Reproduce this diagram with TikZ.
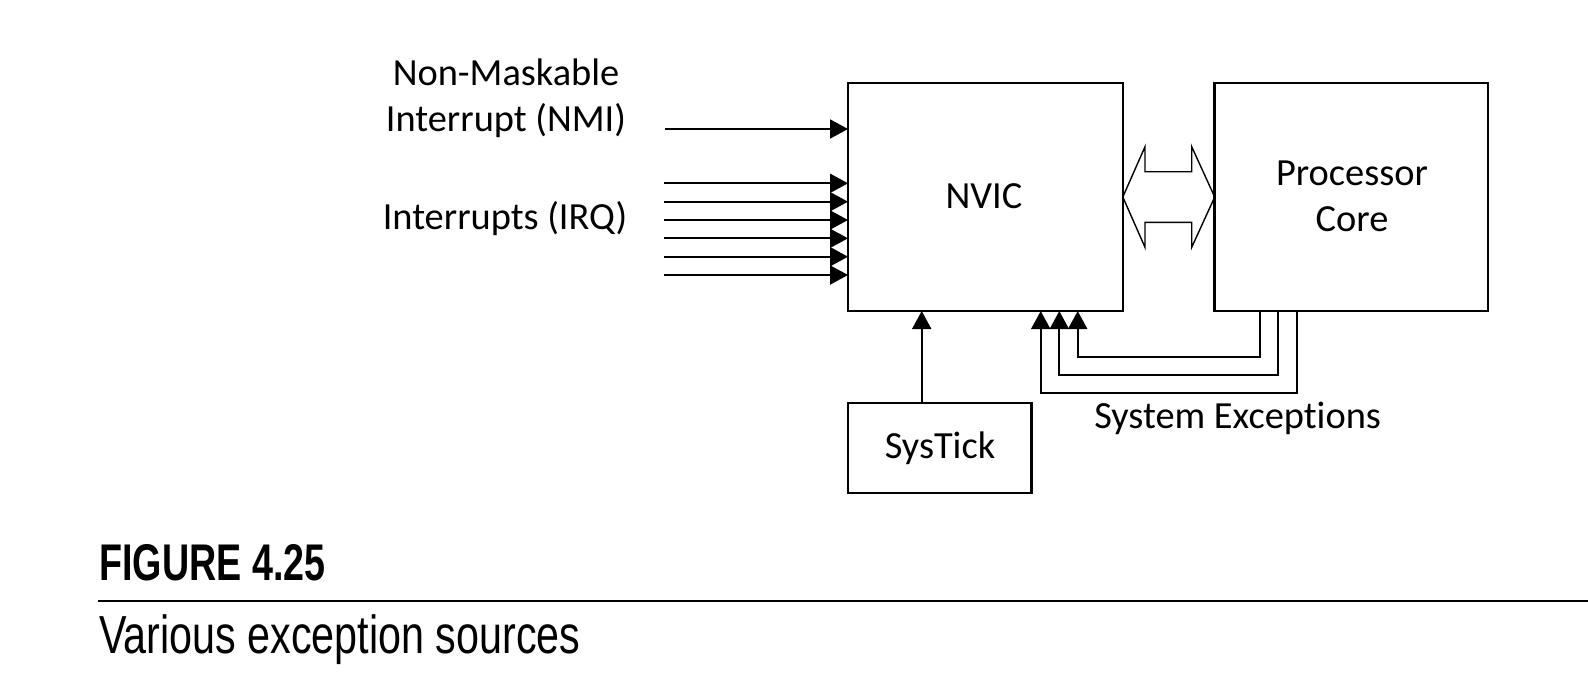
\documentclass[tikz,border=0pt]{standalone}
\usepackage{fontspec}
\setmainfont[Ligatures=NoCommon]{Carlito}
\newfontfamily\capfont[FakeStretch=0.77]{Liberation Sans}
\newfontfamily\capbold[FakeStretch=0.73]{Liberation Sans}
\usetikzlibrary{arrows.meta}
\begin{document}
\begin{tikzpicture}[x=0.5pt,y=-0.5pt,
  lbl/.style={font=\fontsize{19.2}{23.2}\selectfont, inner sep=0pt, align=center},
  blk/.style={draw, line width=1.25pt, inner sep=0pt, outer sep=0pt},
  arr/.style={line width=1pt, -{Triangle[length=9pt,width=9.5pt]}},
  wire/.style={line width=1pt}]
\useasboundingbox (0,0) rectangle (1588,681);
% blocks
\node[blk, minimum width=137.4pt, minimum height=114pt] (nvic) at (985.4,197) {};
\node[lbl] (nvict) at (984,196.5) {NVIC};
\node[blk, minimum width=136.7pt, minimum height=114pt] (proc) at (1351.4,197) {};
\node[lbl] (proct) at (1352,196.5) {Processor\\Core};
\node[blk, minimum width=91.8pt, minimum height=45pt] (systick) at (939.9,448) {};
\node[lbl] (systickt) at (940,448) {SysTick};
% labels
\node[lbl] (nmil) at (506,98) {Non-Maskable\\Interrupt (NMI)};
\node[lbl] (irql) at (505,218.8) {Interrupts (IRQ)};
\node[lbl] (sysexl) at (1237.6,418) {System Except\kern0pt ions};
% NMI arrow
\coordinate (nmi) at (665,129);
\draw[arr] (nmi) -- (nmi -| nvic.west);
% IRQ arrows
\coordinate (irq1) at (664,183.3);
\coordinate (irq2) at (664,201.7);
\coordinate (irq3) at (664,220);
\coordinate (irq4) at (664,238.3);
\coordinate (irq5) at (664,256.7);
\coordinate (irq6) at (664,275);
\foreach \i in {1,...,6} \draw[arr] (irq\i) -- (irq\i -| nvic.west);
% SysTick arrow
\coordinate (st) at (921.7,400);
\draw[arr] (systick.north -| st) -- (st |- nvic.south);
% system exceptions
\coordinate (p1) at (1260,356.7);   \coordinate (n1) at (1077.7,356.7);
\coordinate (p2) at (1278.3,375);   \coordinate (n2) at (1059.3,375);
\coordinate (p3) at (1296.7,393.3); \coordinate (n3) at (1040.7,393.3);
\foreach \i in {1,2,3}
  \draw[arr, line join=miter] (proc.south -| p\i) -- (p\i) -- (n\i) -- (n\i |- nvic.south);
% double arrow
\draw[line width=0.7pt, line join=miter] (nvic.east) -- (1145,146.7) -- (1145,171.7) -- (1191.7,171.7) -- (1191.7,146.7)
  -- (proc.west) -- (1191.7,247.3) -- (1191.7,222.3) -- (1145,222.3) -- (1145,247.3) -- cycle;
% caption
\node[anchor=base west, inner sep=0pt, font=\capbold\bfseries\fontsize{25.8}{30}\selectfont] (fig) at (99,580) {FIGURE 4.25};
\coordinate (rl) at (98,601);
\coordinate (rr) at (1588,601);
\draw[line width=1pt] (rl) -- (rr);
\node[anchor=base west, inner sep=0pt, font=\capfont\fontsize{26.8}{31}\selectfont] (cap) at (99,653) {Various exception sources};
\end{tikzpicture}
\end{document}
